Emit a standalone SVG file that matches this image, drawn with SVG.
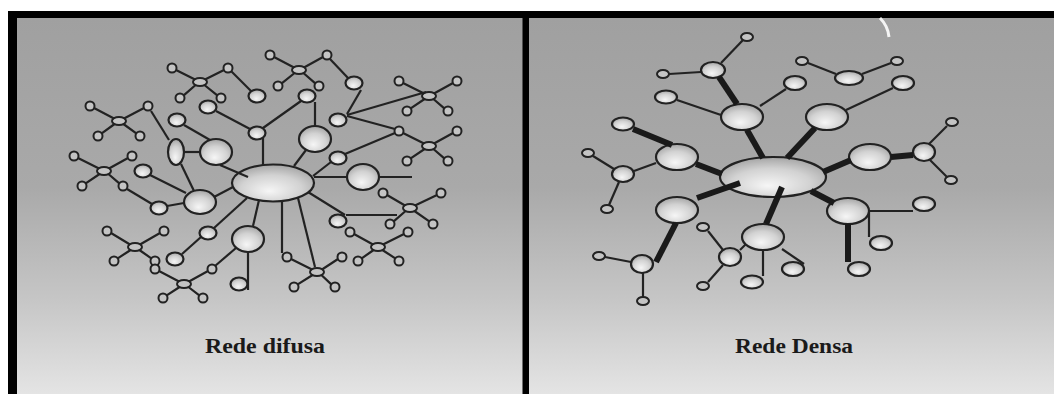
<svg xmlns="http://www.w3.org/2000/svg" width="1054" height="394" viewBox="0 0 1054 394">
<defs>
<linearGradient id="bg" x1="0" y1="18" x2="0" y2="394" gradientUnits="userSpaceOnUse">
<stop offset="0" stop-color="#a0a0a0"/>
<stop offset="0.45" stop-color="#a9a9a9"/>
<stop offset="0.75" stop-color="#c6c6c6"/>
<stop offset="1" stop-color="#e4e4e4"/>
</linearGradient>
<radialGradient id="nf" cx="0.5" cy="0.62" r="0.62" fx="0.45" fy="0.72">
<stop offset="0" stop-color="#f6f6f6"/>
<stop offset="0.6" stop-color="#d2d2d2"/>
<stop offset="1" stop-color="#a4a4a4"/>
</radialGradient>
<style>
.n{fill:url(#nf);stroke:#222;stroke-width:2.2}
.s{fill:#c4c4c4;stroke:#222;stroke-width:2}
.t{stroke:#222;stroke-width:2.2;fill:none;stroke-linecap:butt}
.k{stroke:#1a1a1a;stroke-width:6;fill:none}
.lbl{font-family:"Liberation Serif","Times New Roman",serif;font-weight:bold;font-size:21px;fill:#1a1a1a}
</style>
</defs>
<rect x="0" y="0" width="1054" height="394" fill="#ffffff"/>
<rect x="17" y="18" width="1037" height="376" fill="url(#bg)"/>
<rect x="8" y="11" width="1046" height="7" fill="#000"/>
<rect x="8" y="11" width="9" height="383" fill="#000"/>
<rect x="522.5" y="11" width="6.5" height="383" fill="#000"/>
<path d="M880,18 Q888,26 889,37" stroke="#f4f4f4" stroke-width="3" fill="none"/>

<g id="left-nodes">
<g id="L-center"><ellipse class="n" cx="273" cy="183" rx="41" ry="18.5"/></g>
<g id="L-m1"><ellipse class="n" cx="216" cy="152" rx="16" ry="13"/></g>
<g id="L-v"><ellipse class="n" cx="176" cy="152" rx="8" ry="13"/></g>
<g id="L-m2"><ellipse class="n" cx="200" cy="202" rx="16" ry="12"/></g>
<g id="L-m3"><ellipse class="n" cx="315" cy="139" rx="16" ry="13"/></g>
<g id="L-m4"><ellipse class="n" cx="363" cy="177" rx="16" ry="13"/></g>
<g id="L-m5"><ellipse class="n" cx="248" cy="239" rx="16" ry="13"/></g>
<g id="L-s1"><ellipse class="n" cx="177" cy="120" rx="8.5" ry="6.5"/></g>
<g id="L-s2"><ellipse class="n" cx="208" cy="107" rx="8.5" ry="6.5"/></g>
<g id="L-s3"><ellipse class="n" cx="257" cy="96" rx="8.5" ry="6.5"/></g>
<g id="L-s4"><ellipse class="n" cx="257" cy="133" rx="8.5" ry="6.5"/></g>
<g id="L-s5"><ellipse class="n" cx="307" cy="96" rx="8.5" ry="6.5"/></g>
<g id="L-s6"><ellipse class="n" cx="354" cy="83" rx="8.5" ry="6.5"/></g>
<g id="L-s7"><ellipse class="n" cx="338" cy="120" rx="8.5" ry="6.5"/></g>
<g id="L-s8"><ellipse class="n" cx="338" cy="158" rx="8.5" ry="6.5"/></g>
<g id="L-s9"><ellipse class="n" cx="143" cy="171" rx="8.5" ry="6.5"/></g>
<g id="L-s10"><ellipse class="n" cx="159" cy="208" rx="8.5" ry="6.5"/></g>
<g id="L-s11"><ellipse class="n" cx="338" cy="221" rx="8.5" ry="6.5"/></g>
<g id="L-s12"><ellipse class="n" cx="175" cy="259" rx="8.5" ry="6.5"/></g>
<g id="L-s13"><ellipse class="n" cx="208" cy="233" rx="8.5" ry="6.5"/></g>
<g id="L-s14"><ellipse class="n" cx="239" cy="284" rx="8.5" ry="6.5"/></g>

<g id="A-hub"><ellipse class="s" cx="200" cy="82" rx="7" ry="4"/></g>
<g id="A-1"><circle class="s" cx="172" cy="68" r="4.5"/></g>
<g id="A-2"><circle class="s" cx="228" cy="68" r="4.5"/></g>
<g id="A-3"><circle class="s" cx="180" cy="98" r="4.5"/></g>
<g id="A-4"><circle class="s" cx="221" cy="98" r="4.5"/></g>

<g id="B-hub"><ellipse class="s" cx="119" cy="121" rx="7" ry="4"/></g>
<g id="B-1"><circle class="s" cx="90" cy="106" r="4.5"/></g>
<g id="B-2"><circle class="s" cx="148" cy="106" r="4.5"/></g>
<g id="B-3"><circle class="s" cx="98" cy="136" r="4.5"/></g>
<g id="B-4"><circle class="s" cx="140" cy="136" r="4.5"/></g>

<g id="C-hub"><ellipse class="s" cx="104" cy="171" rx="7" ry="4"/></g>
<g id="C-1"><circle class="s" cx="74" cy="156" r="4.5"/></g>
<g id="C-2"><circle class="s" cx="132" cy="156" r="4.5"/></g>
<g id="C-3"><circle class="s" cx="82" cy="186" r="4.5"/></g>
<g id="C-4"><circle class="s" cx="123" cy="186" r="4.5"/></g>

<g id="D-hub"><ellipse class="s" cx="299" cy="70" rx="7" ry="4"/></g>
<g id="D-1"><circle class="s" cx="270" cy="55" r="4.5"/></g>
<g id="D-2"><circle class="s" cx="327" cy="55" r="4.5"/></g>
<g id="D-3"><circle class="s" cx="278" cy="86" r="4.5"/></g>
<g id="D-4"><circle class="s" cx="319" cy="86" r="4.5"/></g>

<g id="E-hub"><ellipse class="s" cx="429" cy="96" rx="7" ry="4"/></g>
<g id="E-1"><circle class="s" cx="399" cy="81" r="4.5"/></g>
<g id="E-2"><circle class="s" cx="457" cy="81" r="4.5"/></g>
<g id="E-3"><circle class="s" cx="407" cy="111" r="4.5"/></g>
<g id="E-4"><circle class="s" cx="448" cy="111" r="4.5"/></g>

<g id="F-hub"><ellipse class="s" cx="429" cy="146" rx="7" ry="4"/></g>
<g id="F-1"><circle class="s" cx="399" cy="131" r="4.5"/></g>
<g id="F-2"><circle class="s" cx="457" cy="131" r="4.5"/></g>
<g id="F-3"><circle class="s" cx="407" cy="161" r="4.5"/></g>
<g id="F-4"><circle class="s" cx="448" cy="161" r="4.5"/></g>

<g id="G-hub"><ellipse class="s" cx="410" cy="208" rx="7" ry="4"/></g>
<g id="G-1"><circle class="s" cx="383" cy="193" r="4.5"/></g>
<g id="G-2"><circle class="s" cx="441" cy="193" r="4.5"/></g>
<g id="G-3"><circle class="s" cx="390" cy="224" r="4.5"/></g>
<g id="G-4"><circle class="s" cx="433" cy="224" r="4.5"/></g>

<g id="H-hub"><ellipse class="s" cx="378" cy="247" rx="7" ry="4"/></g>
<g id="H-1"><circle class="s" cx="350" cy="232" r="4.5"/></g>
<g id="H-2"><circle class="s" cx="408" cy="232" r="4.5"/></g>
<g id="H-3"><circle class="s" cx="358" cy="261" r="4.5"/></g>
<g id="H-4"><circle class="s" cx="399" cy="261" r="4.5"/></g>

<g id="I-hub"><ellipse class="s" cx="317" cy="272" rx="7" ry="4"/></g>
<g id="I-1"><circle class="s" cx="287" cy="257" r="4.5"/></g>
<g id="I-2"><circle class="s" cx="342" cy="257" r="4.5"/></g>
<g id="I-3"><circle class="s" cx="294" cy="287" r="4.5"/></g>
<g id="I-4"><circle class="s" cx="335" cy="287" r="4.5"/></g>

<g id="J-hub"><ellipse class="s" cx="135" cy="247" rx="7" ry="4"/></g>
<g id="J-1"><circle class="s" cx="107" cy="231" r="4.5"/></g>
<g id="J-2"><circle class="s" cx="164" cy="231" r="4.5"/></g>
<g id="J-3"><circle class="s" cx="114" cy="261" r="4.5"/></g>
<g id="J-4"><circle class="s" cx="155" cy="261" r="4.5"/></g>

<g id="K-hub"><ellipse class="s" cx="184" cy="284" rx="7" ry="4"/></g>
<g id="K-1"><circle class="s" cx="155" cy="269" r="4.5"/></g>
<g id="K-2"><circle class="s" cx="212" cy="269" r="4.5"/></g>
<g id="K-3"><circle class="s" cx="163" cy="298" r="4.5"/></g>
<g id="K-4"><circle class="s" cx="203" cy="298" r="4.5"/></g>
</g>

<g id="right-nodes">
<g id="R-center"><ellipse class="n" cx="773" cy="177" rx="53" ry="20"/></g>
<g id="R-1"><ellipse class="n" cx="742" cy="117" rx="21" ry="13"/></g>
<g id="R-2"><ellipse class="n" cx="827" cy="117" rx="21" ry="13"/></g>
<g id="R-3"><ellipse class="n" cx="677" cy="157" rx="21" ry="13"/></g>
<g id="R-4"><ellipse class="n" cx="870" cy="157" rx="21" ry="13"/></g>
<g id="R-5"><ellipse class="n" cx="677" cy="210" rx="21" ry="13"/></g>
<g id="R-6"><ellipse class="n" cx="763" cy="237" rx="21" ry="13"/></g>
<g id="R-7"><ellipse class="n" cx="848" cy="211" rx="21" ry="13"/></g>
<g id="R-8"><ellipse class="n" cx="713" cy="70" rx="12" ry="8"/></g>
<g id="R-9"><ellipse class="n" cx="623" cy="174" rx="11" ry="8"/></g>
<g id="R-10"><ellipse class="n" cx="642" cy="264" rx="11" ry="9"/></g>
<g id="R-11"><ellipse class="n" cx="730" cy="257" rx="11" ry="9"/></g>
<g id="R-12"><ellipse class="n" cx="924" cy="152" rx="11" ry="9"/></g>
<g id="R-13"><ellipse class="n" cx="666" cy="97" rx="11" ry="6.5"/></g>
<g id="R-14"><ellipse class="n" cx="623" cy="124" rx="11" ry="6.5"/></g>
<g id="R-15"><ellipse class="n" cx="795" cy="83" rx="11" ry="7"/></g>
<g id="R-16"><ellipse class="n" cx="903" cy="83" rx="11" ry="7"/></g>
<g id="R-17"><ellipse class="n" cx="849" cy="78" rx="14" ry="7"/></g>
<g id="R-18"><ellipse class="n" cx="752" cy="282" rx="11" ry="6.5"/></g>
<g id="R-19"><ellipse class="n" cx="793" cy="269" rx="11" ry="7"/></g>
<g id="R-20"><ellipse class="n" cx="924" cy="204" rx="11" ry="7"/></g>
<g id="R-21"><ellipse class="n" cx="881" cy="243" rx="11" ry="7"/></g>
<g id="R-22"><ellipse class="n" cx="859" cy="269" rx="11" ry="7"/></g>
<g id="R-t1"><ellipse class="s" cx="747" cy="37" rx="6" ry="4"/></g>
<g id="R-t2"><ellipse class="s" cx="663" cy="74" rx="6" ry="4"/></g>
<g id="R-t3"><ellipse class="s" cx="588" cy="153" rx="6" ry="4"/></g>
<g id="R-t4"><ellipse class="s" cx="607" cy="209" rx="6" ry="4"/></g>
<g id="R-t5"><ellipse class="s" cx="599" cy="256" rx="6" ry="4"/></g>
<g id="R-t6"><ellipse class="s" cx="643" cy="301" rx="6" ry="4"/></g>
<g id="R-t7"><ellipse class="s" cx="703" cy="227" rx="6" ry="4"/></g>
<g id="R-t8"><ellipse class="s" cx="703" cy="286" rx="6" ry="4"/></g>
<g id="R-t9"><ellipse class="s" cx="802" cy="61" rx="6" ry="4"/></g>
<g id="R-t10"><ellipse class="s" cx="897" cy="61" rx="6" ry="4"/></g>
<g id="R-t11"><ellipse class="s" cx="952" cy="122" rx="6" ry="4"/></g>
<g id="R-t12"><ellipse class="s" cx="951" cy="180" rx="6" ry="4"/></g>
</g>

<g id="connectors">
<g class="t">
<path d="M195,79.5L176,70M205,79.5L224,70M195.6,85L183.7,95.4M204.4,85L217.3,95.4"/>
<path d="M114,118.5L94,108M124,118.5L144,108M114.6,124L101.7,133.4M123.4,124L136.3,133.4"/>
<path d="M99,168.5L78,158M109,168.5L128,158M99.6,174L85.7,183.4M108.4,174L119.3,183.4"/>
<path d="M294,67.5L274,57M304,67.5L323,57M294.6,73L281.7,83.4M303.4,73L315.3,83.4"/>
<path d="M424,93.5L403,83M434,93.5L453,83M424.6,99L410.7,108.4M433.4,99L444.3,108.4"/>
<path d="M424,143.5L403,133M434,143.5L453,133M424.6,149L410.7,158.4M433.4,149L444.3,158.4"/>
<path d="M405,205.5L387,195M415,205.5L437,195M405.6,211L393.7,221.4M414.4,211L429.3,221.4"/>
<path d="M373,244.5L354,234M383,244.5L404,234M373.6,250L361.7,258.4M382.4,250L395.3,258.4"/>
<path d="M312,269.5L291,259M322,269.5L338,259M312.6,275L297.7,284.4M321.4,275L331.3,284.4"/>
<path d="M130,244.5L111,233M140,244.5L160,233M130.6,250L117.7,258.4M139.4,250L151.3,258.4"/>
<path d="M179,281.5L159,271M189,281.5L208,271M179.6,287L166.7,295.4M188.4,287L199.3,295.4"/>
<path d="M231,71L251,91"/>
<path d="M151,111L169,140"/>
<path d="M184,125L210,140"/>
<path d="M184,152L200,152"/>
<path d="M181,164L194,191"/>
<path d="M216,111L250,129"/>
<path d="M263,128L301,101"/>
<path d="M263,138L263,166"/>
<path d="M315,102L315,126"/>
<path d="M306,150L294,166"/>
<path d="M220,165L248,177"/>
<path d="M150,175L186,193"/>
<path d="M167,206L184,203"/>
<path d="M127,189L152,204"/>
<path d="M233,187L214,197"/>
<path d="M330,59L348,78"/>
<path d="M361,90L347,114"/>
<path d="M347,115L426,92"/>
<path d="M347,116L395,129"/>
<path d="M345,154L395,133"/>
<path d="M313,176L331,162"/>
<path d="M314,177L347,177"/>
<path d="M379,177L412,177"/>
<path d="M308,192L345,215"/>
<path d="M346,215L397,215"/>
<path d="M298,198L315,267"/>
<path d="M282,201L282,253"/>
<path d="M247,198L214,228"/>
<path d="M259,200L253,226"/>
<path d="M236,248L215,266"/>
<path d="M248,252L248,290"/>
<path d="M182,254L201,237"/>
<path d="M721,63L743,40"/>
<path d="M669,74L701,72"/>
<path d="M677,100L721,115"/>
<path d="M760,106L786,89"/>
<path d="M846,110L893,88"/>
<path d="M808,63L836,74"/>
<path d="M862,74L891,63"/>
<path d="M593,156L614,169"/>
<path d="M634,171L656,163"/>
<path d="M619,182L609,205"/>
<path d="M605,257L631,262"/>
<path d="M643,273L643,297"/>
<path d="M708,231L723,250"/>
<path d="M708,282L723,265"/>
<path d="M740,250L746,244"/>
<path d="M763,250L763,276"/>
<path d="M782,249L804,264"/>
<path d="M929,144L947,126"/>
<path d="M930,160L947,177"/>
<path d="M869,211L913,211"/>
<path d="M869,212L869,237"/>
</g>
<g class="k">
<path d="M719,77L737,104"/>
<path d="M747,130L763,158"/>
<path d="M787,158L815,128"/>
<path d="M633,129L672,145"/>
<path d="M696,164L722,174"/>
<path d="M697,198L740,183"/>
<path d="M823,172L851,160"/>
<path d="M891,157L913,155"/>
<path d="M811,191L834,203"/>
<path d="M848,224L848,262"/>
<path d="M782,187L766,224"/>
<path d="M676,223L656,262"/>
</g>
</g>

<g id="labels">
<text class="lbl" x="205" y="353" textLength="120" lengthAdjust="spacingAndGlyphs">Rede difusa</text>
<text class="lbl" x="735" y="353" textLength="118" lengthAdjust="spacingAndGlyphs">Rede Densa</text>
</g>
</svg>
